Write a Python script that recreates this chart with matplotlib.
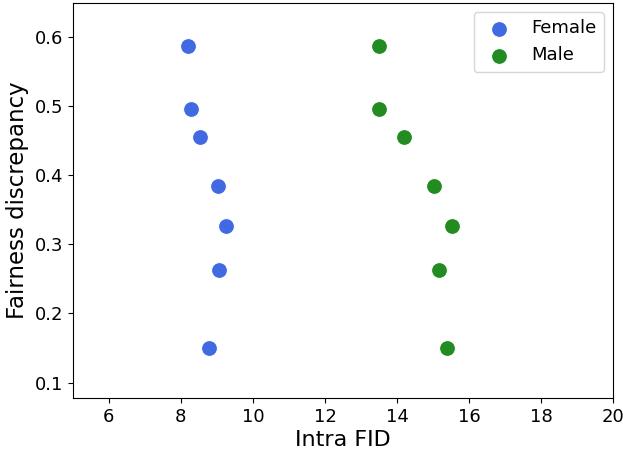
import matplotlib
matplotlib.use('Agg')
import matplotlib.pyplot as plt

discrepancy = [0.587, 0.496, 0.455, 0.385, 0.327, 0.263, 0.150]
female_fid = [8.19, 8.28, 8.53, 9.03, 9.25, 9.06, 8.78]
male_fid = [13.5, 13.5, 14.19, 15.03, 15.53, 15.17, 15.39]

fig, ax = plt.subplots(figsize=(6.23, 4.49), dpi=100)
ax.scatter(female_fid, discrepancy, s=130, color='royalblue', edgecolor='white', linewidth=0.75, label='Female')
ax.scatter(male_fid, discrepancy, s=130, color='forestgreen', edgecolor='white', linewidth=0.75, label='Male')

ax.set_xlim(5, 20)
ax.set_ylim(0.078, 0.649)
ax.set_xticks([6, 8, 10, 12, 14, 16, 18, 20])
ax.set_yticks([0.1, 0.2, 0.3, 0.4, 0.5, 0.6])
ax.tick_params(labelsize=13)
ax.set_xlabel('Intra FID', fontsize=16, labelpad=3)
ax.set_ylabel('Fairness discrepancy', fontsize=16.5)
ax.legend(fontsize=13, handletextpad=0.8)

fig.subplots_adjust(left=0.117, right=0.984, top=0.993, bottom=0.114)
plt.savefig('out.png')
